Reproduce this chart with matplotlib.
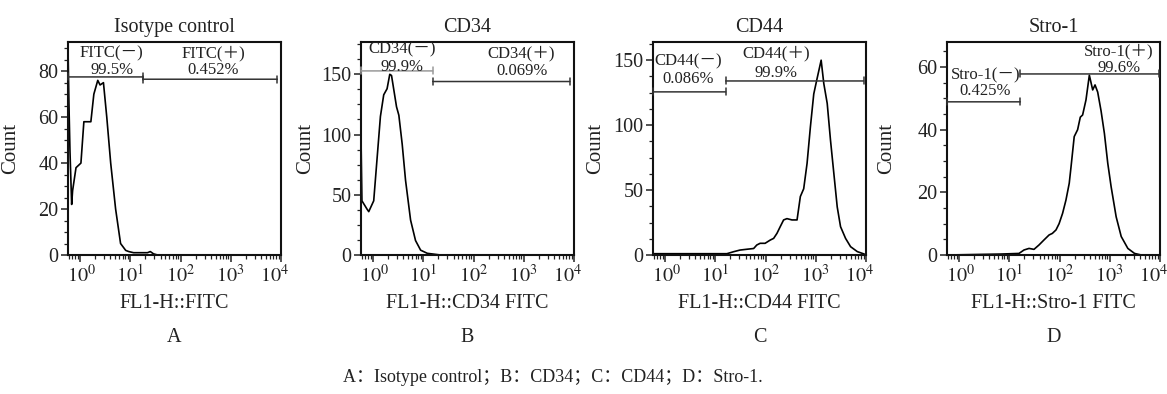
import math
import matplotlib
matplotlib.use('Agg')
import matplotlib.pyplot as plt
from matplotlib.transforms import ScaledTranslation
from matplotlib.ticker import LogLocator, AutoMinorLocator, MultipleLocator, NullFormatter, FixedLocator, FuncFormatter

plt.rcParams['font.family'] = ['Liberation Serif', 'Noto Sans CJK SC']
plt.rcParams['mathtext.fontset'] = 'stix'

# ---------------- data ----------------
titles = ['Isotype control', 'CD34', 'CD44', 'Stro-1']
xlabels = ['FL1-H::FITC', 'FL1-H::CD34 FITC', 'FL1-H::CD44 FITC', 'FL1-H::Stro-1 FITC']
panel_letters = ['A', 'B', 'C', 'D']
caption = 'A：Isotype control；B：CD34；C：CD44；D：Stro-1.'

a_x = [0.575, 0.6, 0.63, 0.68, 0.71, 0.83, 1.04, 1.19, 1.64, 1.88, 2.25, 2.5, 2.92, 3.4,
       4.07, 5.1, 6.4, 8.1, 9.3, 11.6, 22, 25, 29, 35, 10000]
a_y = [90, 66, 45, 22, 28, 38, 40, 58, 58, 70, 76, 74, 75, 60,
       40, 20, 5, 2, 1.5, 1, 1, 1.5, 0.5, 0, 0]

b_x = [0.575, 0.6, 0.76, 0.82, 1.03, 1.40, 1.63, 1.9, 2.15, 2.33, 2.59, 2.93, 3.26, 3.8,
       4.43, 5.58, 7.0, 8.85, 12, 22, 10000]
b_y = [98, 45, 38, 36, 45, 115, 133, 138, 150, 149, 137, 123, 116, 92,
       62, 29, 12, 4, 1.4, 0, 0]

c_x = [0.575, 17, 23, 31, 42, 58, 67, 78, 98, 124, 145, 169, 196, 229, 267, 336, 424, 493,
       575, 671, 782, 912, 1064, 1280, 1445, 1690, 1963, 2290, 2674, 3113, 3918, 4932,
       6714, 9120, 10000]
c_y = [1, 1, 2.5, 3.8, 4.4, 5, 7.7, 9, 9, 11.5, 12.8, 16.7, 21.8, 27, 28, 27, 27, 45,
       51, 70.5, 98.7, 124, 136, 150, 132, 116.7, 88.5, 62.8, 37, 21.8, 12.8, 6.4,
       2.6, 0.8, 0]

d_x = [0.575, 6.7, 15.6, 19.6, 24.7, 31, 39, 49, 62, 72, 85, 98, 115, 134, 156, 169, 196,
       229, 259, 288, 336, 392, 457, 509, 575, 671, 782, 912, 1064, 1340, 1690, 2290,
       3113, 4236, 10000]
d_y = [0, 0.3, 0.5, 1.6, 2.1, 1.8, 3.2, 4.8, 6.4, 6.9, 8, 10, 13.3, 17.5, 22.9, 28, 37.8,
       40, 44, 44.7, 49.5, 57.4, 52.7, 54.3, 52, 46, 38.8, 29.3, 21.8, 12.2, 5.9, 2.1,
       0.5, 0, 0]

xs = [a_x, b_x, c_x, d_x]
ys = [a_y, b_y, c_y, d_y]

y_tops = [92.7, 176.8, 164, 68]
y_steps = [20, 50, 50, 20]
x_min, x_max = 0.575, 1e4
x_ticks = [1, 10, 100, 1000, 10000]

gate_split = [17.8, 15.4, 16.1, 16.6]
gate_right = [8450, 8300, 9000, 9550]
gate_neg_y = [77.5, 152.8, 125.6, 48.9]
gate_pos_y = [76.5, 144, 134, 57.8]
neg_names = ['FITC(－)', 'CD34(－)', 'CD44(－)', 'Stro-1(－)']
pos_names = ['FITC(＋)', 'CD34(＋)', 'CD44(＋)', 'Stro-1(＋)']
neg_pct = ['99.5%', '99.9%', '0.086%', '0.425%']
pos_pct = ['0.452%', '0.069%', '99.9%', '99.6%']

# ---------------- layout ----------------
W, H = 1167, 394
fig = plt.figure(figsize=(W / 100, H / 100), dpi=100)
ax_left_px = [68, 361, 653, 947]
ax_top_px, ax_bot_px, ax_w_px = 42, 255, 213
neg_lab_pos = [(0.205, 0.947, 0.869), (0.191, 0.966, 0.884), (0.164, 0.909, 0.825), (0.18, 0.842, 0.771)]
pos_lab_pos = [(0.682, 0.947, 0.869), (0.754, 0.947, 0.864), (0.579, 0.947, 0.856), (0.806, 0.955, 0.877)]
ylabel_x = [-0.225, -0.216, -0.225, -0.24]
neg_colors = ['#333333', '#9a9a9a', '#333333', '#333333']
txt = '#222222'

for i in range(4):
    ax = fig.add_axes([ax_left_px[i] / W, (H - ax_bot_px) / H, ax_w_px / W, (ax_bot_px - ax_top_px) / H])
    ax.plot(xs[i], ys[i], color='black', lw=1.2)
    ax.set_xscale('log')
    ax.set_xlim(x_min, x_max)
    ax.set_ylim(0, y_tops[i])
    ax.xaxis.set_major_locator(FixedLocator(x_ticks))
    ax.xaxis.set_major_formatter(FuncFormatter(lambda v, p: r'$10^{%d}$' % round(math.log10(v))))
    ax.xaxis.set_minor_locator(LogLocator(base=10, subs=range(2, 10), numticks=20))
    ax.xaxis.set_minor_formatter(NullFormatter())
    ax.yaxis.set_major_locator(MultipleLocator(y_steps[i]))
    ax.yaxis.set_minor_locator(AutoMinorLocator(4))
    ax.tick_params(which='major', direction='out', length=5, width=1.1, labelsize=14.5,
                   colors=txt, pad=2)
    ax.tick_params(which='minor', direction='out', length=3, width=0.9, colors=txt)
    for s in ax.spines.values():
        s.set_linewidth(1.5)
        s.set_color('#111111')
    ax.set_title(titles[i], fontsize=14.5, color=txt, pad=7)
    ax.set_ylabel('Count', fontsize=15, color=txt)
    ax.yaxis.set_label_coords(ylabel_x[i], 0.5)

    # shift x tick labels slightly (last one left, first one right) as in the reference
    fig.canvas.draw()
    labs = ax.get_xticklabels()
    labs[-1].set_transform(labs[-1].get_transform() + ScaledTranslation(-6 / 100, 0, fig.dpi_scale_trans))
    labs[0].set_transform(labs[0].get_transform() + ScaledTranslation(2 / 100, 0, fig.dpi_scale_trans))

    # gates
    ax.annotate('', xy=(x_min, gate_neg_y[i]), xytext=(gate_split[i], gate_neg_y[i]),
                arrowprops=dict(arrowstyle='|-|,widthA=0.25,widthB=0.25', lw=1.1,
                                color=neg_colors[i], shrinkA=0, shrinkB=0))
    ax.annotate('', xy=(gate_split[i], gate_pos_y[i]), xytext=(gate_right[i], gate_pos_y[i]),
                arrowprops=dict(arrowstyle='|-|,widthA=0.25,widthB=0.25', lw=1.1,
                                color='#333333', shrinkA=0, shrinkB=0))
    nx, ny1, ny2 = neg_lab_pos[i]
    px_, py1, py2 = pos_lab_pos[i]
    ax.text(nx, ny1, neg_names[i], transform=ax.transAxes, ha='center', va='center', fontsize=12, color=txt)
    ax.text(nx, ny2, neg_pct[i], transform=ax.transAxes, ha='center', va='center', fontsize=12, color=txt)
    ax.text(px_, py1, pos_names[i], transform=ax.transAxes, ha='center', va='center', fontsize=12, color=txt)
    ax.text(px_, py2, pos_pct[i], transform=ax.transAxes, ha='center', va='center', fontsize=12, color=txt)

    cx = (ax_left_px[i] + ax_w_px / 2) / W
    fig.text(cx, 1 - 304 / H, xlabels[i], ha='center', va='center', fontsize=14.5, color=txt)
    fig.text(cx, 1 - 338 / H, panel_letters[i], ha='center', va='center', fontsize=14.5, color=txt)

fig.text(553 / W, 1 - 377 / H, caption, ha='center', va='center', fontsize=13, color=txt)

fig.savefig('out.png', dpi=100)
